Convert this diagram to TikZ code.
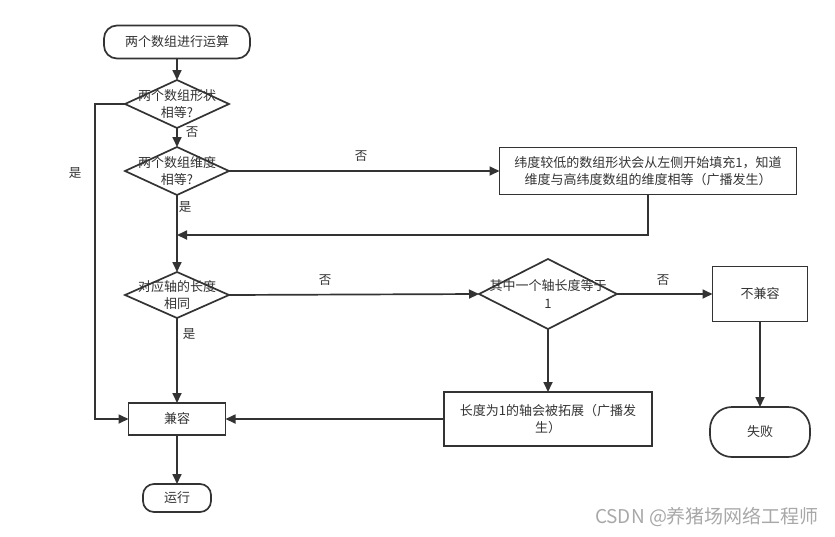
\documentclass[tikz,border=0pt]{standalone}
\usepackage{fontspec}
\setmainfont{Noto Sans CJK SC}
\usetikzlibrary{arrows.meta,shapes.geometric}
\definecolor{ln}{HTML}{333333}
\definecolor{wm}{HTML}{A8A8A8}
\begin{document}
\begin{tikzpicture}[x=1pt,y=-1pt,
  every node/.style={text=ln,font=\fontsize{13}{17.5}\selectfont},
  base/.style={draw=ln,line width=1.7pt,inner sep=0pt,outer sep=0pt},
  term/.style={base,rectangle,rounded corners=13pt},
  proc/.style={base,rectangle},
  dia/.style={base,diamond,minimum width=104pt,minimum height=48pt},
  dlab/.style={align=center},
  lab/.style={font=\fontsize{12.5}{14}\selectfont},
  arr/.style={draw=ln,line width=1.7pt,-{Triangle[length=10pt,width=9pt]}},
  ln/.style={draw=ln,line width=1.7pt}]
\useasboundingbox (0,0) rectangle (835,536);
\node[term,minimum width=146pt,minimum height=33pt] (start) at (177,42) {两个数组进行运算};
\node[dia] (d1) at (177,104) {};
\node[dlab] (t1) at (177,104) {两个数组形状\\相等?};
\node[dia] (d2) at (177,171) {};
\node[dlab] (t2) at (177,171) {两个数组维度\\相等?};
\node[proc,minimum width=297pt,minimum height=47pt,align=center] (r1) at (648,171) {纬度较低的数组形状会从左侧开始填充1，知道\\维度与高纬度数组的维度相等（广播发生）};
\coordinate (j1) at (177,235);
\node[dia,minimum height=46pt] (d3) at (177,295) {};
\node[dlab] (t3) at (177,295) {对应轴的长度\\相同};
\node[dia,minimum width=138pt,minimum height=70pt] (d4) at (548,294) {};
\node[dlab] (t4) at (548,294) {其中一个轴长度等于\\1};
\node[proc,minimum width=95pt,minimum height=55pt] (r2) at (760,294) {不兼容};
\node[term,rounded corners=22pt,minimum width=100pt,minimum height=50pt] (fail) at (760,432) {失败};
\node[proc,minimum width=208pt,minimum height=54pt,align=center] (r3) at (548,419) {长度为1的轴会被拓展（广播发\\生）};
\node[proc,minimum width=97pt,minimum height=32pt] (ok) at (177,419) {兼容};
\node[term,rounded corners=11pt,minimum width=68pt,minimum height=28pt] (run) at (177,498) {运行};
\coordinate (lc) at (95,419);
\draw[arr] (start) -- (d1);
\draw[arr] (d1) -- (d2);
\draw[arr] (d2.east) -- (r1.west);
\draw[arr] (r1.south) |- (j1);
\draw[arr] (d2) -- (d3);
\draw[arr] (d3.east) -- (d4.west);
\draw[arr] (d4.east) -- (r2.west);
\draw[arr] (r2) -- (fail);
\draw[arr] (d4) -- (r3);
\draw[arr] (r3.west) -- (ok.east);
\draw[arr] (d3) -- (ok);
\draw[arr] (d1.west) -| (lc) -- (ok.west);
\draw[arr] (ok) -- (run);
\node[lab] (n1) at (192,132) {否};
\node[lab] (n2) at (185,207) {是};
\node[lab] (n3) at (361,156) {否};
\node[lab] (n4) at (75,173) {是};
\node[lab] (n5) at (325,280) {否};
\node[lab] (n6) at (663,280) {否};
\node[lab] (n7) at (189,334) {是};
\node[text=wm,font=\fontsize{19}{22}\selectfont] (wmk) at (707,517) {CSDN @养猪场网络工程师};
\end{tikzpicture}
\end{document}
